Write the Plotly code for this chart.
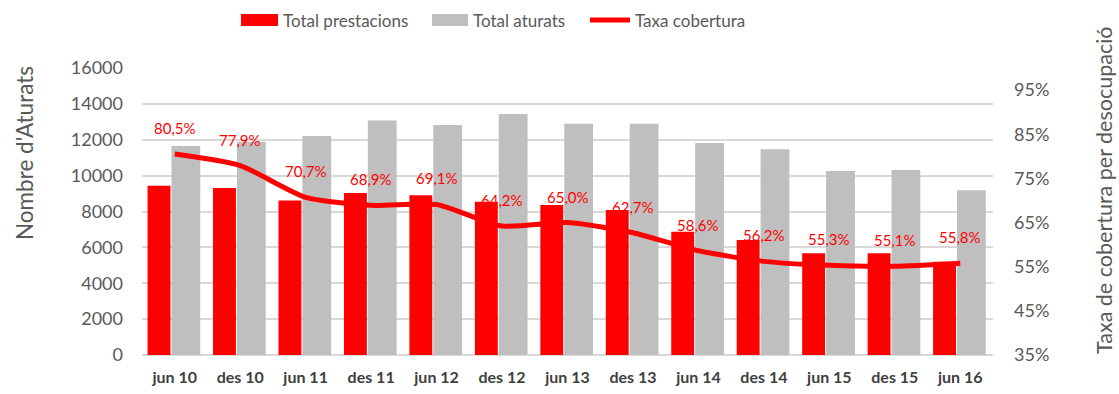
import plotly.graph_objects as go

# Semestral series
periodes = ["jun 10", "des 10", "jun 11", "des 11", "jun 12", "des 12", "jun 13",
            "des 13", "jun 14", "des 14", "jun 15", "des 15", "jun 16"]
total_prestacions = [9440, 9310, 8620, 9030, 8900, 8550, 8360,
                     8080, 6870, 6410, 5670, 5670, 5200]
total_aturats = [11650, 11890, 12210, 13080, 12820, 13430, 12890,
                 12890, 11820, 11470, 10260, 10310, 9180]
taxa_cobertura = [80.5, 77.9, 70.7, 68.9, 69.1, 64.2, 65.0,
                  62.7, 58.6, 56.2, 55.3, 55.1, 55.8]

left_ticks = list(range(0, 16001, 2000))
right_ticks = list(range(35, 96, 10))

RED = "#ff0000"
GREY = "#bfbfbf"
TXT = "#595959"
FONT = "Lato"

xs = list(range(len(periodes)))

fig = go.Figure()
fig.add_trace(go.Bar(x=xs, y=total_prestacions, name="Total prestacions",
                     marker=dict(color=RED, line=dict(width=0)),
                     width=0.35, offset=-0.415, yaxis="y"))
fig.add_trace(go.Bar(x=xs, y=total_aturats, name="Total aturats",
                     marker=dict(color=GREY, line=dict(width=0)),
                     width=0.44, offset=-0.05, yaxis="y"))
fig.add_trace(go.Scatter(x=xs, y=taxa_cobertura, name="Taxa cobertura",
                         mode="lines", line=dict(color=RED, width=5, shape="spline",
                                                 smoothing=0.6),
                         yaxis="y2"))

# Percent labels above the coverage line
for x, v in zip(xs, taxa_cobertura):
    fig.add_annotation(x=x, y=v, xref="x", yref="y2", yshift=26,
                       text=f"{v:.1f}".replace(".", ",") + "%", showarrow=False,
                       font=dict(family=FONT, size=15, color=RED))

# Pixel helpers for the plot frame
PX0, PX1, PY0, PY1 = 142, 993, 68, 355
def px_x(v):
    return (v - PX0) / (PX1 - PX0)
def px_y(v):
    return (PY1 - v) / (PY1 - PY0)

# Legend drawn across the top
legend_items = [
    ("rect", RED, 241, 278, "Total prestacions"),
    ("rect", GREY, 432, 468, "Total aturats"),
    ("line", RED, 590, 630, "Taxa cobertura"),
]
for kind, col, x0, x1, label in legend_items:
    if kind == "rect":
        fig.add_shape(type="rect", xref="paper", yref="paper",
                      x0=px_x(x0), x1=px_x(x1), y0=px_y(26), y1=px_y(14),
                      fillcolor=col, line=dict(width=0))
    else:
        fig.add_shape(type="line", xref="paper", yref="paper",
                      x0=px_x(x0), x1=px_x(x1), y0=px_y(20), y1=px_y(20),
                      line=dict(color=col, width=5))
    fig.add_annotation(xref="paper", yref="paper", x=px_x(x1 + 3), y=px_y(20),
                       xanchor="left", yanchor="middle", showarrow=False,
                       text=label, font=dict(family=FONT, size=17, color=TXT))

# Axis titles
fig.add_annotation(xref="paper", yref="paper", x=px_x(24), y=px_y(153),
                   xanchor="center", yanchor="middle", textangle=-90,
                   showarrow=False, text="Nombre d'Aturats",
                   font=dict(family=FONT, size=22.5, color=TXT))
fig.add_annotation(xref="paper", yref="paper", x=px_x(1104), y=px_y(190),
                   xanchor="center", yanchor="middle", textangle=-90,
                   showarrow=False, text="Taxa de cobertura per desocupació",
                   font=dict(family=FONT, size=21.5, color=TXT))

fig.update_layout(
    width=1119, height=394,
    margin=dict(l=PX0, r=1119 - PX1, t=PY0, b=394 - PY1, autoexpand=False),
    paper_bgcolor="white", plot_bgcolor="white",
    barmode="overlay", showlegend=False,
    font=dict(family=FONT, color=TXT),
    xaxis=dict(tickmode="array", tickvals=xs, ticktext=periodes,
               range=[-0.5, len(periodes) - 0.5], automargin=False,
               showgrid=False, zeroline=False, showline=False,
               ticks="", ticklabelstandoff=11,
               tickfont=dict(family=FONT, size=16, color="#404040", weight="bold")),
    yaxis=dict(range=[0, 16000], tickmode="array", tickvals=left_ticks,
               ticktext=[str(t) for t in left_ticks], automargin=False,
               showgrid=True, gridcolor="#d9d9d9", gridwidth=2,
               zeroline=True, zerolinecolor="#d9d9d9", zerolinewidth=2,
               ticks="", ticklabelstandoff=18,
               tickfont=dict(family=FONT, size=18, color=TXT)),
    yaxis2=dict(range=[35, 100], overlaying="y", side="right",
                tickmode="array", tickvals=right_ticks,
                ticktext=[f"{t}%" for t in right_ticks], automargin=False,
                showgrid=False, zeroline=False, showline=False,
                ticks="", ticklabelstandoff=20,
                tickfont=dict(family=FONT, size=18, color=TXT)),
)

fig.write_html("out.html")
